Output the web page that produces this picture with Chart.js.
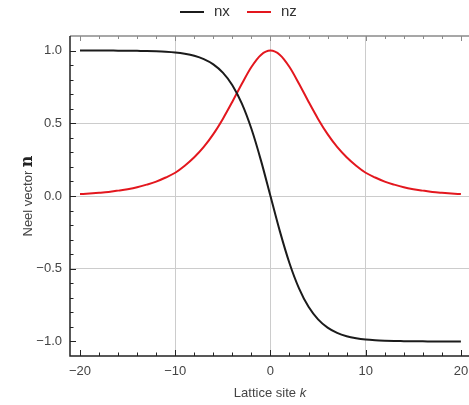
<!DOCTYPE html>
<html>
<head>
<meta charset="utf-8">
<script src="https://cdn.jsdelivr.net/npm/chart.js@4.4.1/dist/chart.umd.min.js"></script>
<style>
  html, body { margin: 0; padding: 0; background: #fff; }
  #wrap { width: 469px; height: 405px; }
</style>
</head>
<body>
<div id="wrap"><canvas id="chart" width="469" height="405"></canvas></div>
<script>
// lattice sites and the two components of the Neel vector
const sites = [-20, -19, -18, -17, -16, -15, -14, -13, -12, -11, -10, -9, -8, -7, -6, -5, -4, -3, -2, -1,
  0, 1, 2, 3, 4, 5, 6, 7, 8, 9, 10, 11, 12, 13, 14, 15, 16, 17, 18, 19, 20];
const nx = [1.000, 1.000, 1.000, 1.000, 0.999, 0.999, 0.998, 0.997, 0.995, 0.992, 0.987, 0.978, 0.964, 0.941, 0.905, 0.848, 0.762, 0.635, 0.462, 0.245,
  0.000, -0.245, -0.462, -0.635, -0.762, -0.848, -0.905, -0.941, -0.964, -0.978, -0.987, -0.992, -0.995, -0.997, -0.998, -0.999, -0.999, -1.000, -1.000, -1.000, -1.000];
const nz = [0.013, 0.017, 0.022, 0.028, 0.037, 0.047, 0.060, 0.078, 0.099, 0.127, 0.160, 0.208, 0.266, 0.337, 0.425, 0.530, 0.648, 0.772, 0.887, 0.970,
  1.000, 0.970, 0.887, 0.772, 0.648, 0.530, 0.425, 0.337, 0.266, 0.208, 0.160, 0.127, 0.099, 0.078, 0.060, 0.047, 0.037, 0.028, 0.022, 0.017, 0.013];
const xTicks = [-20, -10, 0, 10, 20];
const yTicks = [-1, -0.5, 0, 0.5, 1];
const xMinor = [-20, -18, -16, -14, -12, -10, -8, -6, -4, -2, 0, 2, 4, 6, 8, 10, 12, 14, 16, 18, 20];
const yMinor = [-1, -0.9, -0.8, -0.7, -0.6, -0.5, -0.4, -0.3, -0.2, -0.1, 0, 0.1, 0.2, 0.3, 0.4, 0.5, 0.6, 0.7, 0.8, 0.9, 1];

const black = '#1b1b1b';
const red = '#e3171e';
const labelFont = '13px "Liberation Sans", Arial, sans-serif';

// frame, inward ticks, legend and axis titles
const framePlugin = {
  id: 'frame',
  afterDraw(chart) {
    const { ctx, chartArea: a, scales: { x, y } } = chart;
    ctx.save();
    // top frame
    ctx.strokeStyle = '#8a8a8a';
    ctx.lineWidth = 1.5;
    ctx.beginPath();
    ctx.moveTo(a.left, a.top); ctx.lineTo(a.right, a.top);
    ctx.stroke();
    // left and bottom axes
    ctx.strokeStyle = '#222';
    ctx.beginPath();
    ctx.moveTo(a.left, a.top); ctx.lineTo(a.left, a.bottom); ctx.lineTo(a.right, a.bottom);
    ctx.stroke();
    ctx.lineWidth = 1;
    ctx.beginPath();
    xMinor.forEach(v => {
      const px = Math.round(x.getPixelForValue(v)) + 0.5;
      const len = v % 10 === 0 ? 6 : 3.5;
      ctx.moveTo(px, a.bottom); ctx.lineTo(px, a.bottom - len);
    });
    yMinor.forEach(v => {
      const py = Math.round(y.getPixelForValue(v)) + 0.5;
      const len = Math.abs(v * 10) % 5 < 0.01 ? 6 : 3.5;
      ctx.moveTo(a.left, py); ctx.lineTo(a.left + len, py);
    });
    ctx.stroke();
    ctx.strokeStyle = '#8a8a8a';
    ctx.beginPath();
    xMinor.forEach(v => {
      const px = Math.round(x.getPixelForValue(v)) + 0.5;
      const len = v % 10 === 0 ? 5 : 3;
      ctx.moveTo(px, a.top); ctx.lineTo(px, a.top + len);
    });
    ctx.stroke();

    // legend
    ctx.lineWidth = 2;
    ctx.font = '15px "Liberation Sans", Arial, sans-serif';
    ctx.textBaseline = 'middle';
    ctx.textAlign = 'left';
    [[black, 'nx', 180], [red, 'nz', 247]].forEach(([c, t, lx]) => {
      ctx.strokeStyle = c;
      ctx.beginPath(); ctx.moveTo(lx, 12); ctx.lineTo(lx + 24, 12); ctx.stroke();
      ctx.fillStyle = '#333';
      ctx.fillText(t, lx + 34, 12);
    });

    // x title
    ctx.fillStyle = '#444';
    ctx.textBaseline = 'alphabetic';
    ctx.font = labelFont;
    const part1 = 'Lattice site ';
    const w1 = ctx.measureText(part1).width;
    ctx.font = 'italic ' + labelFont;
    const w2 = ctx.measureText('k').width;
    const sx = 270 - (w1 + w2) / 2;
    ctx.font = labelFont;
    ctx.fillText(part1, sx, 397);
    ctx.font = 'italic ' + labelFont;
    ctx.fillText('k', sx + w1, 397);

    // y title
    ctx.translate(32, 196);
    ctx.rotate(-Math.PI / 2);
    ctx.font = labelFont;
    const t1 = 'Neel vector ';
    const u1 = ctx.measureText(t1).width;
    const nFont = 'bold 16px "DejaVu Serif", "Liberation Serif", serif';
    ctx.font = nFont;
    const u2 = ctx.measureText('n').width;
    const sy = -(u1 + u2) / 2;
    ctx.font = labelFont;
    ctx.fillText(t1, sy, 0);
    ctx.font = nFont;
    ctx.fillStyle = '#222';
    ctx.fillText('n', sy + u1, 0);
    ctx.restore();
  }
};

new Chart(document.getElementById('chart'), {
  type: 'line',
  data: {
    labels: sites,
    datasets: [
      { label: 'nx', data: sites.map((k, i) => ({ x: k, y: nx[i] })), borderColor: black, borderWidth: 2, pointRadius: 0, tension: 0.4, cubicInterpolationMode: 'monotone', fill: false },
      { label: 'nz', data: sites.map((k, i) => ({ x: k, y: nz[i] })), borderColor: red, borderWidth: 2, pointRadius: 0, tension: 0.4, cubicInterpolationMode: 'monotone', fill: false }
    ]
  },
  options: {
    responsive: false,
    animation: false,
    events: [],
    layout: { padding: { top: 36, right: 0, left: 0, bottom: 0 }, autoPadding: false },
    plugins: { legend: { display: false }, tooltip: { enabled: false } },
    scales: {
      x: {
        type: 'linear',
        min: -21.05,
        max: 20.85,
        afterBuildTicks: s => { s.ticks = xTicks.map(v => ({ value: v })); },
        afterFit: s => { s.height = 49; s.paddingLeft = 0; s.paddingRight = 0; },
        grid: {
          drawTicks: false,
          lineWidth: 1,
          color: c => (c.tick && Math.abs(c.tick.value) < 15 ? '#cccccc' : 'rgba(0,0,0,0)')
        },
        border: { display: false },
        ticks: {
          padding: 8,
          color: '#444',
          font: { family: '"Liberation Sans", Arial, sans-serif', size: 13 },
          maxRotation: 0,
          callback: v => String(v).replace('-', '\u2212')
        }
      },
      y: {
        min: -1.1,
        max: 1.1,
        afterBuildTicks: s => { s.ticks = yTicks.map(v => ({ value: v })); },
        afterFit: s => { s.width = 70; s.paddingTop = 0; s.paddingBottom = 0; },
        grid: {
          drawTicks: false,
          lineWidth: 1,
          color: c => (c.tick && Math.abs(c.tick.value) < 0.9 ? '#cccccc' : 'rgba(0,0,0,0)')
        },
        border: { display: false },
        ticks: {
          padding: 8,
          color: '#444',
          font: { family: '"Liberation Sans", Arial, sans-serif', size: 13 },
          callback: v => v.toFixed(1).replace('-', '\u2212')
        }
      }
    }
  },
  plugins: [framePlugin]
});
</script>
</body>
</html>
